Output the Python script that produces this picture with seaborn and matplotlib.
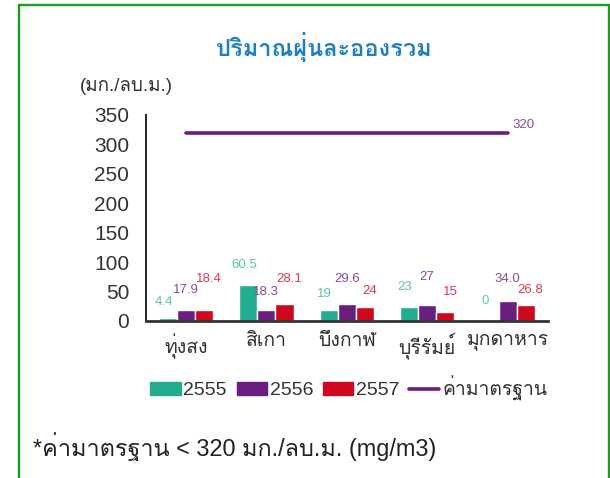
import numpy as np
import pandas as pd
import seaborn as sns
import matplotlib.pyplot as plt
from matplotlib import font_manager
from matplotlib.ft2font import FT2Font
from matplotlib.patches import Patch, Rectangle
from matplotlib.lines import Line2D

stations = ["ทุ่งสง", "สิเกา", "บึงกาฬ", "บุรีรัมย์", "มุกดาหาร"]
years = ["2555", "2556", "2557"]
dust_2555 = [4.4, 60.5, 19, 23, 0]
dust_2556 = [17.9, 18.3, 29.6, 27, 34.0]
dust_2557 = [18.4, 28.1, 24, 15, 26.8]
labels_2555 = ["4.4", "60.5", "19", "23", "0"]
labels_2556 = ["17.9", "18.3", "29.6", "27", "34.0"]
labels_2557 = ["18.4", "28.1", "24", "15", "26.8"]
standard = [320, 320, 320, 320, 320]
yticks = [0, 50, 100, 150, 200, 250, 300, 350]


def thai_font():
    # look for any installed font that has Thai glyphs
    for f in font_manager.fontManager.ttflist:
        try:
            cmap = FT2Font(f.fname).get_charmap()
        except Exception:
            continue
        if 0x0E01 in cmap and 0x0E48 in cmap:
            return f.name
    return "DejaVu Sans"


sns.set_style("white")
plt.rcParams['font.family'] = ["Liberation Sans", thai_font(), "DejaVu Sans"]

df = pd.DataFrame({
    "station": stations * 3,
    "year": [y for y in years for _ in stations],
    "value": dust_2555 + dust_2556 + dust_2557,
})

bar_colors = ["#22ad90", "#6a1e7e", "#d0081f"]
label_colors = ["#5cc4ad", "#8a4aa0", "#e23a55"]
line_color = "#6a1e7e"

fig = plt.figure(figsize=(6.1, 4.78), dpi=100)
ax = fig.add_axes([0.239, 0.3285, 0.659, 0.431])

sns.barplot(data=df, x="station", y="value", hue="year", palette=bar_colors,
            width=0.675, gap=0, saturation=1, legend=False, ax=ax)
sns.pointplot(x=stations, y=standard, color=line_color, markers="",
              linestyles="-", linewidth=2.6, ax=ax)

# data labels, nudged like the original
all_labels = [labels_2555, labels_2556, labels_2557]
dx = [-4, 0, 5]
dy = [[16, 20, 16, 20, 20],
      [20, 18, 25, 28, 22],
      [31, 25, 16, 20, 15]]
for i, cont in enumerate(ax.containers):
    for j, bar in enumerate(cont):
        ax.annotate(all_labels[i][j],
                    xy=(bar.get_x() + bar.get_width() / 2, bar.get_height()),
                    xytext=(dx[i], dy[i][j]), textcoords="offset pixels",
                    ha="center", va="center", fontsize=9.5, color=label_colors[i])

ax.annotate(str(standard[-1]), xy=(len(stations) - 1, standard[-1]),
            xytext=(5, 8), textcoords="offset pixels", ha="left", va="center",
            fontsize=9.5, color="#8a4aa0")

ax.set_ylim(0, 350)
ax.set_xlim(-0.5, len(stations) - 0.5)
ax.set_yticks(yticks)
ax.set_xlabel("")
ax.set_ylabel("")
ax.tick_params(axis="y", length=0, pad=12, labelsize=15, labelcolor="#333333")
ax.tick_params(axis="x", length=0, pad=9, labelsize=14, labelcolor="#333333")
sns.despine(ax=ax)
ax.spines["left"].set_linewidth(1.4)
ax.spines["left"].set_color("#222222")
ax.spines["bottom"].set_linewidth(2)
ax.spines["bottom"].set_color("#333333")

handles = [Patch(color=c) for c in bar_colors]
handles.append(Line2D([0], [0], color=line_color, lw=2.6))
fig.legend(handles, years + ["ค่ามาตรฐาน"], loc="center", ncol=4,
           bbox_to_anchor=(0.572, 0.188), frameon=False, fontsize=14,
           handlelength=1.55, handleheight=0.62, handletextpad=0.15,
           columnspacing=0.5, labelcolor="#333333")

fig.text(0.531, 0.902, "ปริมาณฝุ่นละอองรวม", ha="center", va="center",
         fontsize=17, fontweight="bold", color="#1f7fc1")
fig.text(0.131, 0.818, "(มก./ลบ.ม.)", ha="left", va="center",
         fontsize=13.5, color="#333333")
fig.text(0.054, 0.065, "*ค่ามาตรฐาน < 320 มก./ลบ.ม. (mg/m3)", ha="left",
         va="center", fontsize=16.9, color="#222222")

fig.patches.append(Rectangle((18.5 / 610, -0.05), (609 - 18.5) / 610,
                             1.05 - 5 / 478, transform=fig.transFigure,
                             fill=False, edgecolor="#1c9e1c", lw=1.7))

fig.savefig("out.png", dpi=100, facecolor="white")
